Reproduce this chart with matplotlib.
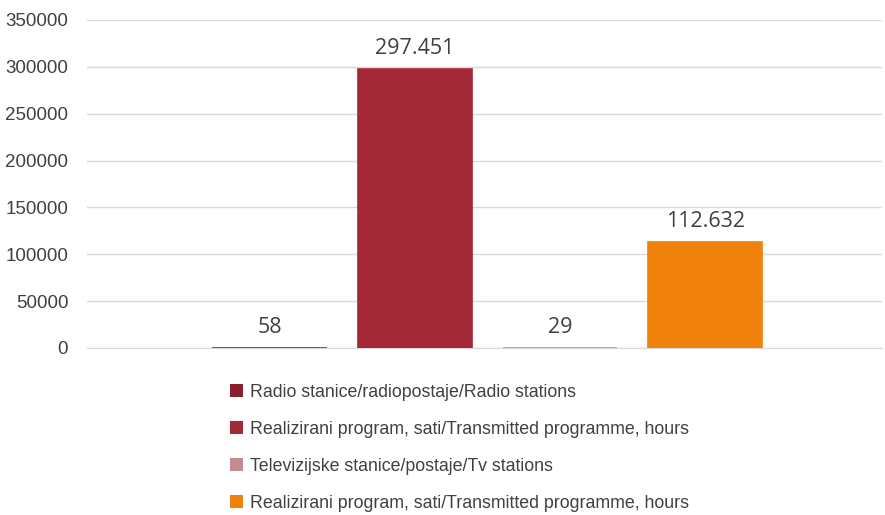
import matplotlib
matplotlib.use("Agg")
from matplotlib import pyplot as plt
from matplotlib.patches import Patch

# Data
series = ['Radio stanice/radiopostaje/Radio stations',
          'Realizirani program, sati/Transmitted programme, hours',
          'Televizijske stanice/postaje/Tv stations',
          'Realizirani program, sati/Transmitted programme, hours']
values = [58, 297451, 29, 112632]
value_labels = ['58', '297.451', '29', '112.632']
colors = ['#8c1f2f', '#a32838', '#c48b90', '#f0820c']
yticks = [0, 50000, 100000, 150000, 200000, 250000, 300000, 350000]

fig = plt.figure(figsize=(8.85, 5.15), dpi=100)
ax = fig.add_axes([87/885, 1 - 348/515, 795/885, 328/515])

xs = range(len(values))
ax.bar(xs, values, width=0.785, color=colors, edgecolor=colors, linewidth=1.2, zorder=3)
for x, v, lab in zip(xs, values, value_labels):
    ax.text(x, v + 11000, lab, ha='center', va='bottom', fontsize=15.5,
            family='Open Sans', color='#404040')

ax.set_ylim(0, 350000)
ax.set_xlim(-1.256, 4.215)
ax.set_yticks(yticks)
ax.set_yticklabels([str(t) for t in yticks], family='Liberation Sans', fontsize=13.5, color='#404040')
ax.set_xticks([])
ax.tick_params(axis='y', length=0, pad=13.5)
ax.grid(axis='y', color='#d9d9d9', linewidth=1, zorder=0)
for s in ['left', 'right', 'top']:
    ax.spines[s].set_visible(False)
ax.spines['bottom'].set_color('#d9d9d9')

handles = [Patch(facecolor=c, edgecolor='none') for c in colors]
fig.legend(handles, series, loc='upper left', bbox_to_anchor=(214/885, 1 - 368/515),
           frameon=False, prop={'family': 'Liberation Sans', 'size': 12.8},
           labelcolor='#404040', handlelength=0.75, handleheight=0.75,
           handletextpad=0.35, labelspacing=1.12)

fig.savefig('out.png', dpi=100)
